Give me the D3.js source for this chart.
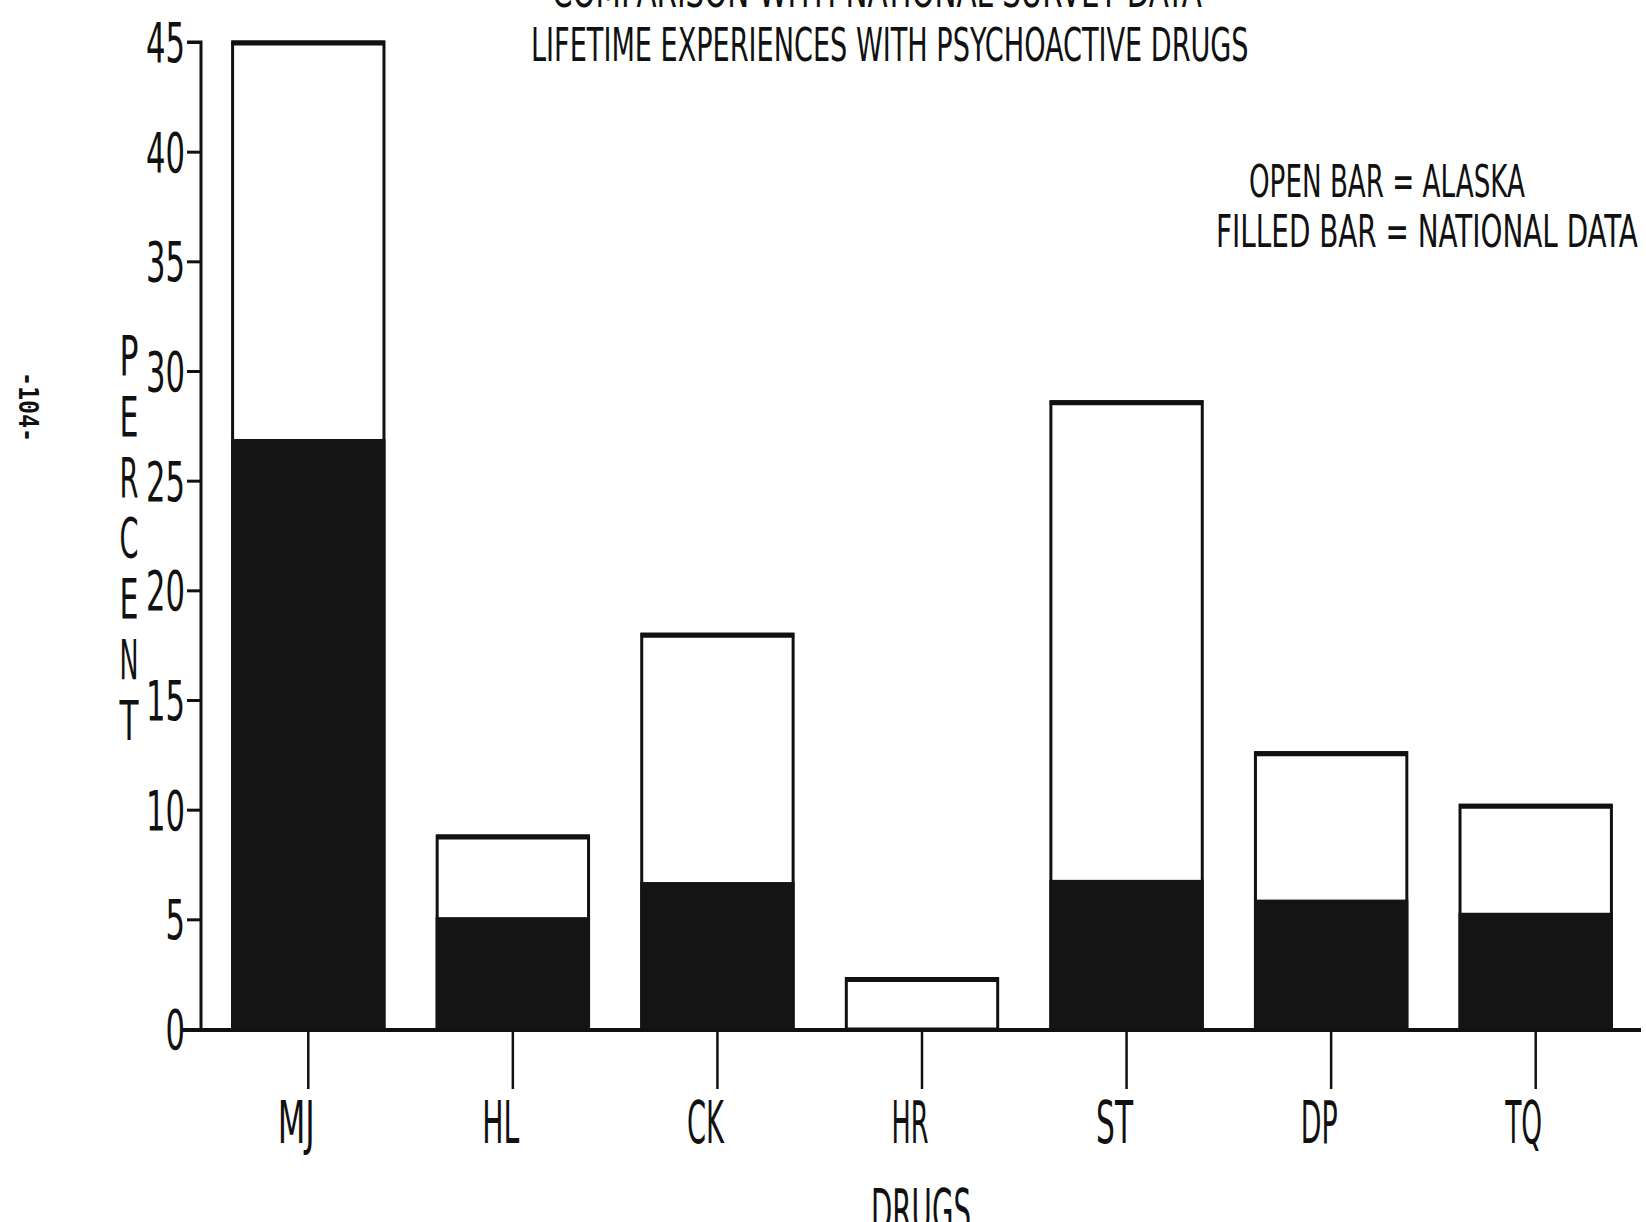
<!DOCTYPE html>
<html><head><meta charset="utf-8">
<script src="https://cdn.jsdelivr.net/npm/d3@7"></script>
<style>
html,body{margin:0;padding:0;background:#fff;}
svg{display:block;}
text{font-family:"Liberation Sans Narrow","DejaVu Sans Condensed","Liberation Sans",sans-serif;fill:#111;}
</style></head>
<body>
<script>
const categories = ["MJ","HL","CK","HR","ST","DP","TQ"];
const alaska   = [45.0, 8.8, 18.0, 2.3, 28.6, 12.6, 10.2];
const national = [26.9, 5.1, 6.7, null, 6.8, 5.9, 5.3];
const yTicks = [0,5,10,15,20,25,30,35,40,45];
const titleLines = ["COMPARISON WITH NATIONAL SURVEY DATA","LIFETIME EXPERIENCES WITH PSYCHOACTIVE DRUGS"];
const legendLines = ["OPEN BAR = ALASKA","FILLED BAR = NATIONAL DATA"];
const yLabel = "PERCENT";
const xLabel = "DRUGS";
const pageMark = "-104-";

const W = 1646, H = 1222;
const svg = d3.select("body").append("svg").attr("width", W).attr("height", H);
svg.append("rect").attr("width", W).attr("height", H).attr("fill", "#fff");

const y = d3.scaleLinear().domain([0, 45]).range([1029, 42]);
const x = d3.scaleBand().domain(categories).range([206, 1638]).paddingInner(0.26).paddingOuter(0.13);
const axisX = 201;

// text fitted horizontally to a target width with a scale transform
function fitText(str, xPos, yPos, fs, width, anchor, fill) {
  const t = svg.append("text").attr("font-size", fs).attr("fill", fill || "#111").text(str);
  const w = t.node().getComputedTextLength();
  const s = width / w;
  let x0 = xPos;
  if (anchor === "middle") x0 = xPos - width / 2;
  if (anchor === "end") x0 = xPos - width;
  t.attr("transform", `translate(${x0},${yPos}) scale(${s},1)`);
  return t;
}

// bars
const g = svg.append("g");
categories.forEach((c, i) => {
  const x0 = x(c), bw = x.bandwidth();
  g.append("rect").attr("x", x0).attr("y", y(alaska[i])).attr("width", bw)
    .attr("height", y(0) - y(alaska[i])).attr("fill", "#fff").attr("stroke", "#111").attr("stroke-width", 3);
  g.append("line").attr("x1", x0 - 1).attr("x2", x0 + bw + 1).attr("y1", y(alaska[i]) + 1).attr("y2", y(alaska[i]) + 1)
    .attr("stroke", "#111").attr("stroke-width", 5);
  if (national[i] != null) {
    g.append("rect").attr("x", x0 - 1.5).attr("y", y(national[i])).attr("width", bw + 3)
      .attr("height", y(0) - y(national[i])).attr("fill", "#141414");
  }
});

// y axis
const yAxis = d3.axisLeft(y).tickValues(yTicks).tickSize(14).tickFormat("");
const ya = svg.append("g").attr("transform", `translate(${axisX},0)`).call(yAxis);
ya.select(".domain").attr("stroke", "#111").attr("stroke-width", 3).attr("d", `M-14,${y(45)}H0V${y(0)}`);
ya.selectAll(".tick line").attr("stroke", "#111").attr("stroke-width", 3);
yTicks.forEach(v => {
  const s = String(v);
  fitText(s, axisX - 16, y(v) + 20, 56, s.length * 19.5, "end");
});

// baseline
svg.append("line").attr("x1", 182).attr("x2", 1641).attr("y1", y(0) + 1).attr("y2", y(0) + 1)
  .attr("stroke", "#111").attr("stroke-width", 4);

// x axis ticks + labels
const xAxis = d3.axisBottom(x).tickSize(58).tickFormat("");
const xa = svg.append("g").attr("transform", `translate(0,${y(0) + 2})`).call(xAxis);
xa.select(".domain").remove();
xa.selectAll(".tick line").attr("stroke", "#111").attr("stroke-width", 2.5);
categories.forEach(c => {
  fitText(c, x(c) + x.bandwidth() / 2 - 12, 1143, 58, 37, "middle");
});

// titles
fitText(titleLines[0], 877, 7, 46, 650, "middle");
fitText(titleLines[1], 890, 61, 46, 718, "middle");

// legend
fitText(legendLines[0], 1249, 197, 45, 276, "start");
fitText(legendLines[1], 1216, 247, 45, 422, "start");

// y label stacked letters
yLabel.split("").forEach((ch, i) => {
  fitText(ch, 129, 375 + i * 60.8, 56, 19, "middle");
});

// x label (cut off at bottom)
fitText(xLabel, 921, 1231, 58, 100, "middle", "#333");

// page mark
svg.append("text").attr("transform", "translate(19,372) rotate(90)").attr("font-size", 27)
  .attr("font-weight", "bold").attr("textLength", 70).attr("lengthAdjust", "spacingAndGlyphs")
  .style("font-family", '"DejaVu Sans Mono",monospace').text(pageMark);
</script>
</body></html>
